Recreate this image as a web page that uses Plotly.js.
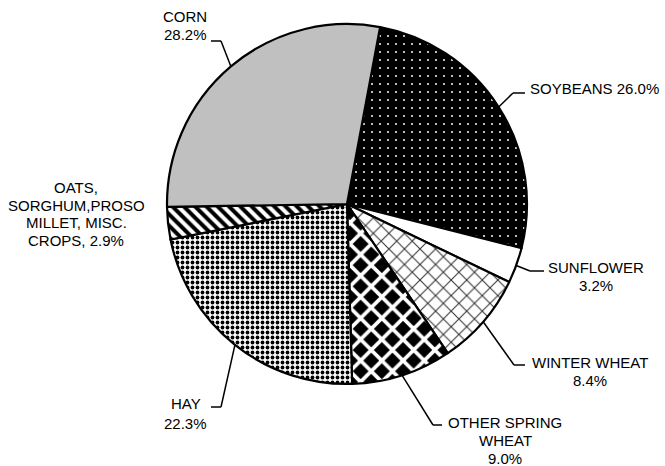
<!DOCTYPE html>
<html>
<head>
<meta charset="utf-8">
<script src="https://cdn.plot.ly/plotly-3.0.1.min.js"></script>
<style>html,body{margin:0;padding:0;background:#fff;}#chart{width:665px;height:466px;}</style>
</head>
<body>
<div id="chart"></div>
<script>
// ---- data ----
const categories = ['SOYBEANS', 'SUNFLOWER', 'WINTER WHEAT', 'OTHER SPRING WHEAT', 'HAY', 'OATS, SORGHUM,PROSO MILLET, MISC. CROPS', 'CORN'];
const shares = [26.0, 3.2, 8.4, 9.0, 22.3, 2.9, 28.2];
// label text lines ({p} = percentage of that slice)
const labelLines = [
  ['SOYBEANS {p}'],
  ['SUNFLOWER', '{p}'],
  ['WINTER WHEAT', '{p}'],
  ['OTHER SPRING', 'WHEAT', '{p}'],
  ['HAY', '{p}'],
  ['OATS,', 'SORGHUM,PROSO', 'MILLET, MISC.', 'CROPS, {p}'],
  ['CORN', '{p}']
];

// ---- geometry / style ----
const W = 665, H = 466;
const CX = 347, CY = 204, R = 180;
const ROT = 10.6;
// label placement (pixels): elbow, end of leader, text x, text anchor, line y's
const labelPos = [
  {elbow: [513, 93], end: [525, 93], tx: 528, anchor: 'left', ty: [89]},
  {elbow: [530, 271], end: [544, 271], tx: 596, anchor: 'center', ty: [267, 285]},
  {elbow: [514, 365], end: [525, 365], tx: 590, anchor: 'center', ty: [362, 380]},
  {elbow: [433, 425], end: [442, 425], tx: 505, anchor: 'center', ty: [422, 440, 458]},
  {elbow: [221, 407], end: [211, 407], tx: 186, anchor: 'center', ty: [403, 423]},
  {elbow: null, end: null, tx: 76, anchor: 'center', ty: [187, 205, 222, 240]},
  {elbow: [221, 41], end: [211, 41], tx: 185, anchor: 'center', ty: [17, 35]}
];

const px = x => x / W;
const py = y => 1 - y / H;

const trace = {
  type: 'pie',
  labels: categories,
  values: shares,
  sort: false,
  direction: 'clockwise',
  rotation: ROT,
  textinfo: 'none',
  hoverinfo: 'label+percent',
  showlegend: false,
  domain: {x: [px(CX - R), px(CX + R)], y: [py(CY + R), py(CY - R)]},
  marker: {
    colors: ['#000000', '#ffffff', '#ffffff', '#ffffff', '#ffffff', '#ffffff', '#c0c0c0'],
    line: {color: '#000000', width: 2.2},
    pattern: {
      shape: ['.', '', 'x', 'x', '.', '\\', ''],
      bgcolor: ['#000000', '#ffffff', '#ffffff', '#000000', '#ffffff', '#ffffff', '#c0c0c0'],
      fgcolor: ['#ffffff', '#ffffff', '#333333', '#ffffff', '#000000', '#000000', '#c0c0c0'],
      size: [8, 8, 11, 15, 5, 8, 8],
      solidity: [0.05, 0.3, 0.18, 0.43, 0.45, 0.5, 0.3],
      fillmode: 'replace'
    }
  }
};

// leader lines start on the pie edge at each slice's mid-angle
const total = shares.reduce((a, b) => a + b, 0);
const shapes = [];
const annotations = [];
let acc = 0;
shares.forEach((v, i) => {
  const mid = (ROT + (acc + v / 2) / total * 360) * Math.PI / 180;
  acc += v;
  const ax = CX + R * Math.sin(mid), ay = CY - R * Math.cos(mid);
  const lp = labelPos[i];
  if (lp.elbow) {
    shapes.push({type: 'line', xref: 'paper', yref: 'paper', x0: px(ax), y0: py(ay), x1: px(lp.elbow[0]), y1: py(lp.elbow[1]), line: {color: '#000', width: 1.5}});
    shapes.push({type: 'line', xref: 'paper', yref: 'paper', x0: px(lp.elbow[0]), y0: py(lp.elbow[1]), x1: px(lp.end[0]), y1: py(lp.end[1]), line: {color: '#000', width: 1.5}});
  }
  const pct = v.toFixed(1) + '%';
  labelLines[i].forEach((t, k) => {
    annotations.push({
      xref: 'paper', yref: 'paper', x: px(lp.tx), y: py(lp.ty[k]),
      xanchor: lp.anchor, yanchor: 'middle', showarrow: false,
      text: t.replace('{p}', pct),
      font: {family: 'Liberation Sans, Arial, sans-serif', size: 15, color: '#000'}
    });
  });
});

const layout = {
  width: W, height: H,
  margin: {l: 0, r: 0, t: 0, b: 0},
  paper_bgcolor: '#ffffff',
  plot_bgcolor: '#ffffff',
  shapes: shapes,
  annotations: annotations
};

Plotly.newPlot('chart', [trace], layout, {displayModeBar: false, staticPlot: true});
</script>
</body>
</html>
